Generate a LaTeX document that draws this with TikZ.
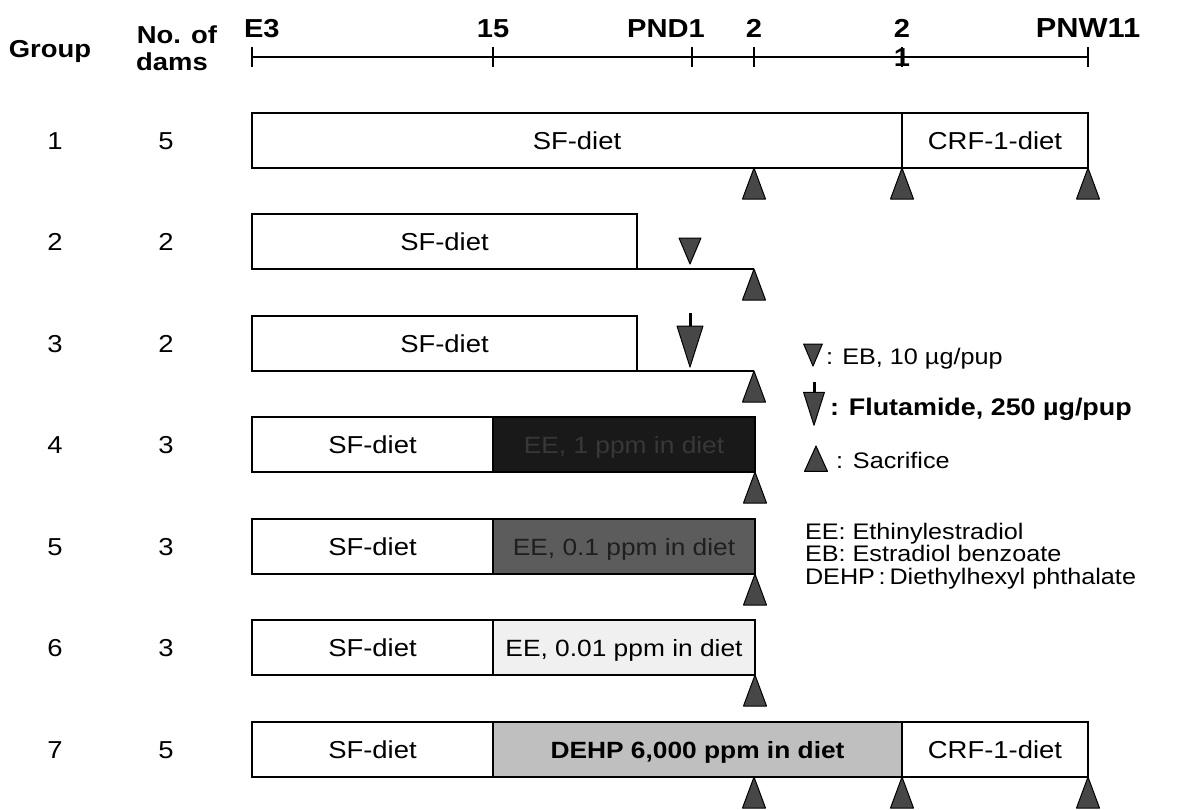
\documentclass[tikz,border=0pt]{standalone}
\usepackage{fontspec}
\setmainfont{Liberation Sans}[FakeStretch=1.12]
\begin{document}
\begin{tikzpicture}[x=1pt,y=-1pt,
  every node/.style={inner sep=0pt, outer sep=0pt},
  txt/.style={font=\fontsize{24.5}{26}\selectfont, anchor=base},
  hdr/.style={font=\bfseries\fontsize{24.5}{27}\selectfont, anchor=base},
  axl/.style={font=\bfseries\fontsize{26}{28}\selectfont, anchor=base},
  leg/.style={font=\fontsize{22.5}{24}\selectfont, anchor=base west},
  legb/.style={font=\bfseries\fontsize{24}{26}\selectfont, anchor=base west},
  bx/.style={draw, line width=1.8pt, minimum height=55pt, anchor=north west,
    font=\fontsize{24.5}{26}\selectfont, text height=17pt, text depth=0pt},
  ln/.style={line width=1.8pt},
  axisline/.style={line width=2pt},
  sacr/.pic={\filldraw[fill=black!72, draw=black, line width=1pt, line join=round]
     (0,0) -- (-11.5,31) -- (11.5,31) -- cycle;},
  ebtri/.pic={\filldraw[fill=black!72, draw=black, line width=1pt, line join=round]
     (-11,0) -- (11,0) -- (0,26) -- cycle;},
  fluta/.pic={\draw[line width=3pt] (0,0) -- (0,16);
     \filldraw[fill=black!72, draw=black, line width=1pt, line join=round]
     (-13,13) -- (13,13) -- (0,54) -- cycle;}
]
\useasboundingbox (0,0) rectangle (1183,809);

% ---- time axis ----
\coordinate (tE3) at (252,57);
\coordinate (t15) at (493,57);
\coordinate (tP1) at (692,57);
\coordinate (tP2) at (754,57);
\coordinate (tP21) at (902,57);
\coordinate (tW11) at (1088,57);
\draw[axisline] (tE3) -- (tW11);
\foreach \t in {tE3,t15,tP1,tP2,tP21,tW11}
  \draw[line width=1.4pt] (\t) ++(0,-10) -- ++(0,20);

\node[axl, anchor=base west] (lE3) at (244,37) {E3};
\node[axl] (l15) at (493,37) {15};
\node[axl] (lP1) at (666,37) {PND1};
\node[axl] (lP2) at (754,37) {2};
\node[axl] (l21) at (902,37) {2};
\node[axl, anchor=center] (l21b) at (902,58) {1};
\node[axl, font=\bfseries\fontsize{27.5}{28}\selectfont] (lW11) at (1088,37) {PNW11};

% ---- headers ----
\node[hdr] (hGroup) at (50,57) {Group};
\node[hdr] (hNo) at (177,43) {No. of};
\node[hdr] (hDams) at (172,70) {dams};

% ---- group / dams numbers ----
\foreach \i/\y/\d in {1/149/5, 2/250/2, 3/352/2, 4/453/3, 5/555/3, 6/656/3, 7/758/5}{
  \node[txt] (g\i) at (55,\y) {\i};
  \node[txt] (d\i) at (166,\y) {\d};
}

% ---- row 1 ----
\node[bx, minimum width=650pt] (r1a) at (252,113) {SF-diet};
\node[bx, minimum width=186pt] (r1b) at (902,113) {CRF-1-diet};
\coordinate (r1s) at (754,168);
\pic at (r1s) {sacr};
\pic at (r1a.south east) {sacr};
\pic at (r1b.south east) {sacr};

% ---- row 2 ----
\node[bx, minimum width=385pt] (r2a) at (252,214) {SF-diet};
\coordinate (r2e) at (754,269);
\draw[ln] (r2a.south east) -- (r2e);
\pic at (690,238) {ebtri};
\pic at (r2e) {sacr};

% ---- row 3 ----
\node[bx, minimum width=385pt] (r3a) at (252,316) {SF-diet};
\coordinate (r3e) at (754,371);
\draw[ln] (r3a.south east) -- (r3e);
\pic at (690,313) {fluta};
\pic at (r3e) {sacr};

% ---- row 4 ----
\node[bx, minimum width=241pt] (r4a) at (252,417) {SF-diet};
\node[bx, minimum width=262pt, fill=black!90, text=black!78, font=\fontsize{23.5}{26}\selectfont] (r4b) at (493,417) {EE, 1 ppm in diet};
\pic at (r4b.south east) {sacr};

% ---- row 5 ----
\node[bx, minimum width=241pt] (r5a) at (252,519) {SF-diet};
\node[bx, minimum width=262pt, fill=black!64, text=black!88, font=\fontsize{23.5}{26}\selectfont] (r5b) at (493,519) {EE, 0.1 ppm in diet};
\pic at (r5b.south east) {sacr};

% ---- row 6 ----
\node[bx, minimum width=262pt, fill=black!6, font=\fontsize{23.5}{26}\selectfont] (r6b) at (493,620) {EE, 0.01 ppm in diet};
\node[bx, minimum width=241pt] (r6a) at (252,620) {SF-diet};
\pic at (r6b.south east) {sacr};

% ---- row 7 ----
\node[bx, minimum width=409pt, fill=black!25, font=\bfseries\fontsize{23.5}{26}\selectfont] (r7b) at (493,722) {DEHP 6,000 ppm in diet};
\node[bx, minimum width=241pt] (r7a) at (252,722) {SF-diet};
\node[bx, minimum width=186pt] (r7c) at (902,722) {CRF-1-diet};
\coordinate (r7s) at (754,777);
\pic at (r7s) {sacr};
\pic at (r7b.south east) {sacr};
\pic at (r7c.south east) {sacr};

% ---- legend ----
\pic[scale=0.85] at (813,344) {ebtri};
\node[leg] (lgEB) at (826,364) {: EB, 10 µg/pup};
\pic[scale=0.8] at (814,382) {fluta};
\node[legb] (lgFl) at (830,415) {: Flutamide, 250 µg/pup};
\pic[yscale=0.82] at (816,446) {sacr};
\node[leg] (lgSc) at (836,468) {:\hspace{10pt}Sacrifice};
\node[leg] (lgEE) at (805,539) {EE: Ethinylestradiol};
\node[leg] (lgEB2) at (805,561) {EB: Estradiol benzoate};
\node[leg] (lgDE) at (805,584) {DEHP\,:\,Diethylhexyl phthalate};
\end{tikzpicture}
\end{document}
